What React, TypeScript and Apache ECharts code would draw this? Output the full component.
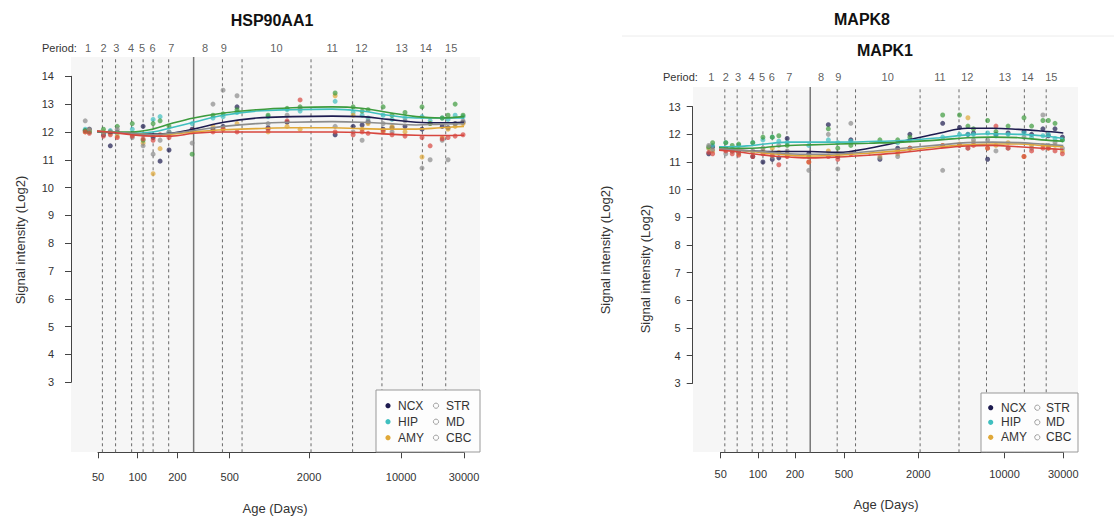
import React, { useEffect, useRef } from "react";
import * as echarts from "echarts";

// ---------- shared data ----------
const regionNames = ["NCX", "HIP", "AMY", "STR", "MD", "CBC"];
const regionColors = ["#1d1b4f", "#3fbfbf", "#e0a838", "#3d9b3d", "#8c8c8c", "#d7463e"];

const periodBoundaries = [54, 68, 90, 110, 131, 172, 440, 620, 2070, 4280, 7150, 14500, 21800];
const birthAge = 266;
const periodNames = ["1", "2", "3", "4", "5", "6", "7", "8", "9", "10", "11", "12", "13", "14", "15"];
const periodLabelAges = [42, 55, 69, 89, 108, 130, 180, 325, 450, 1130, 3000, 5000, 10100, 15400, 24000];
const xTickValues = [50, 100, 200, 500, 2000, 10000, 30000];

const sampleAges = [40, 43, 55, 62, 70, 91, 110, 131, 148, 173, 259, 373, 445, 568, 977, 1362, 1710, 3155, 4320, 5055, 5610, 7300, 8530, 10700, 14400, 16600, 20500, 22700, 25700, 29500];
const curveAges = [40, 60, 90, 130, 180, 266, 450, 800, 1500, 3000, 5000, 8000, 13000, 20000, 30000];

// ---------- HSP90AA1 ----------
const hspNCX = [12.05, 12.1, 11.9, 11.5, 12.0, 11.95, 12.2, 11.8, 10.95, 11.35, 12.1, 12.1, 12.2, 12.9, 12.15, 12.35, null, 11.9, 12.2, 12.25, 12.35, 12.1, 12.15, 12.2, 12.1, null, 12.2, 12.15, 12.3, 12.35];
const hspHIP = [12.1, 12.0, 11.95, 12.05, 11.95, 12.1, 11.9, 12.45, 12.55, 12.0, 12.3, 12.5, 12.55, 12.7, 12.55, 12.8, 12.75, 13.1, 12.7, 12.6, 12.5, 12.6, 12.45, 12.5, 12.55, 12.4, 12.5, 12.45, 12.6, 12.55];
const hspAMY = [12.0, 12.05, 12.0, 11.95, 11.85, 11.9, 11.6, 10.5, 11.4, 11.9, 12.0, 12.2, 12.1, 12.3, 12.0, 12.2, 12.1, 13.3, 12.6, 12.1, 12.3, 12.0, 12.2, 12.0, 11.1, 12.3, 11.8, 12.1, 12.2, 12.3];
const hspSTR = [12.05, 12.0, 12.1, 12.0, 12.2, 12.3, 11.7, 12.3, 12.4, 12.2, 11.2, 12.6, 12.65, 12.8, 12.6, 12.85, 12.9, 13.4, 12.9, 12.75, 12.8, 12.9, 12.6, 12.7, 12.9, 12.3, 12.5, 12.6, 13.0, 12.6];
const hspMD = [12.4, 12.1, 11.95, 12.0, 12.1, 11.8, 11.5, 11.2, 11.7, 12.0, 11.6, 13.0, 13.5, 13.3, 12.3, 12.6, 12.85, 12.2, 12.0, 11.7, 12.4, 12.3, 12.0, 12.4, 10.7, 11.0, 11.7, 11.0, 12.3, 12.4];
const hspCBC = [12.0, 11.95, 11.85, 11.9, 11.8, 11.85, 11.75, 11.7, 11.9, 11.8, 12.05, 12.0, 12.1, 12.0, 12.1, 12.4, 13.15, 12.0, 11.9, 12.0, 11.95, 12.05, 11.9, 11.85, 11.8, 11.5, 11.75, 11.8, 11.85, 11.9];

const hspCurveNCX = [12.05, 11.98, 11.95, 11.92, 11.95, 12.1, 12.35, 12.5, 12.55, 12.57, 12.55, 12.45, 12.35, 12.33, 12.35];
const hspCurveHIP = [12.05, 12.0, 11.95, 12.0, 12.15, 12.35, 12.6, 12.75, 12.8, 12.82, 12.75, 12.6, 12.5, 12.5, 12.5];
const hspCurveAMY = [12.05, 12.0, 11.95, 11.9, 11.92, 12.0, 12.08, 12.12, 12.15, 12.15, 12.12, 12.1, 12.1, 12.15, 12.2];
const hspCurveSTR = [12.05, 12.0, 12.0, 12.1, 12.3, 12.5, 12.68, 12.8, 12.87, 12.9, 12.85, 12.7, 12.55, 12.5, 12.55];
const hspCurveMD = [12.05, 12.0, 11.95, 11.9, 11.95, 12.05, 12.2, 12.3, 12.35, 12.37, 12.35, 12.3, 12.25, 12.28, 12.3];
const hspCurveCBC = [12.05, 12.0, 11.9, 11.85, 11.85, 11.95, 12.0, 12.0, 12.0, 12.0, 11.98, 11.92, 11.88, 11.87, 11.88];

// ---------- MAPK1 ----------
const mapkNCX = [11.3, 11.55, 11.5, 11.4, 11.35, 11.2, 11.0, 11.1, 11.15, 11.85, 11.3, 12.35, 11.2, 11.8, 11.1, 11.5, 12.0, 12.4, 12.25, 12.0, 12.05, 11.1, 12.0, 12.05, 12.1, 12.0, 12.2, 11.95, 12.2, 11.9];
const mapkHIP = [11.5, 11.6, 11.7, 11.5, 11.6, 11.7, 11.8, 11.9, 11.75, 11.7, 11.6, 11.8, 11.7, 11.75, null, 11.7, 11.8, 11.9, 12.0, 12.0, 12.0, 12.05, 11.95, 12.0, 12.05, 11.9, 11.95, 12.0, 11.85, 11.8];
const mapkAMY = [11.5, 11.4, 11.45, 11.4, 11.3, 11.35, 11.4, 11.5, 11.35, 11.3, 11.0, 11.4, 11.3, null, 11.2, 11.3, 11.5, 11.6, 11.65, 12.6, 11.7, 11.5, 11.6, 11.7, 11.2, 11.6, 11.6, 11.5, 11.6, 11.4];
const mapkSTR = [11.55, 11.7, 11.7, 11.6, 11.65, 11.7, 11.9, 11.9, 11.95, 11.6, 11.2, 12.2, 11.5, 11.6, 11.8, 11.8, 11.9, 12.7, 12.7, 12.3, 12.2, 12.5, 12.1, 12.3, 12.6, 12.3, 12.5, 12.5, 12.4, 11.8];
const mapkMD = [11.6, 11.45, 11.3, 11.4, 11.35, 11.4, 11.5, 11.2, 11.6, 11.4, 10.7, 12.0, 10.75, 12.4, 11.15, 11.2, 11.5, 10.7, 11.6, 11.5, 11.8, 11.8, 11.4, 11.5, 11.9, 11.5, 12.7, 11.6, 11.7, 11.5];
const mapkCBC = [11.35, 11.3, 11.4, 11.3, 11.25, 11.2, 11.3, 11.25, 10.9, 11.2, 11.0, 11.2, 11.1, 11.3, null, 11.4, 11.5, 11.6, 11.6, 11.5, 11.6, 11.5, 12.3, 11.5, 11.2, 11.4, 11.5, 11.5, 11.4, 11.3];

const mapkCurveNCX = [11.55, 11.45, 11.4, 11.38, 11.38, 11.38, 11.35, 11.5, 11.75, 12.05, 12.22, 12.22, 12.18, 12.12, 12.05];
const mapkCurveHIP = [11.55, 11.55, 11.6, 11.68, 11.72, 11.72, 11.72, 11.74, 11.78, 11.88, 11.98, 12.02, 12.0, 11.95, 11.85];
const mapkCurveAMY = [11.5, 11.45, 11.38, 11.3, 11.25, 11.22, 11.25, 11.32, 11.42, 11.55, 11.62, 11.65, 11.65, 11.6, 11.55];
const mapkCurveSTR = [11.55, 11.5, 11.5, 11.55, 11.6, 11.62, 11.65, 11.68, 11.72, 11.8, 11.88, 11.9, 11.88, 11.8, 11.75];
const mapkCurveMD = [11.5, 11.45, 11.4, 11.35, 11.3, 11.28, 11.3, 11.38, 11.5, 11.62, 11.7, 11.72, 11.7, 11.65, 11.6];
const mapkCurveCBC = [11.45, 11.4, 11.3, 11.22, 11.18, 11.15, 11.18, 11.25, 11.35, 11.5, 11.58, 11.6, 11.55, 11.5, 11.45];

const FONT = "'Liberation Sans', Arial, sans-serif";

const panels = [
  {
    points: [hspNCX, hspHIP, hspAMY, hspSTR, hspMD, hspCBC],
    curves: [hspCurveNCX, hspCurveHIP, hspCurveAMY, hspCurveSTR, hspCurveMD, hspCurveCBC],
    grid: { left: 98, top: 76.3, width: 366, height: 306 },
    axisGrid: { left: 98, top: 451.3, width: 366, height: 1 },
    yMax: 14, yOffset: 27, yLabelMargin: 17, xLabelMargin: 20,
    lineLo: 0.484, lineHi: 14.69, labelY: 15.02,
    bg: { x: 71, y: 57, w: 409, h: 395 },
    legend: { x: 376, y: 390, w: 104, h: 62, dot: 388, text: 398, dot2: 436, text2: 446, rows: [405.7, 421.7, 437.7] },
    periodText: { x: 42, y: 48 },
  },
  {
    points: [mapkNCX, mapkHIP, mapkAMY, mapkSTR, mapkMD, mapkCBC],
    curves: [mapkCurveNCX, mapkCurveHIP, mapkCurveAMY, mapkCurveSTR, mapkCurveMD, mapkCurveCBC],
    grid: { left: 720.7, top: 106.7, width: 342.6, height: 276.6 },
    axisGrid: { left: 720.7, top: 451.3, width: 342.6, height: 1 },
    yMax: 13, yOffset: 28, yLabelMargin: 12, xLabelMargin: 17,
    lineLo: 0.505, lineHi: 13.71, labelY: 14.07,
    bg: { x: 693, y: 87, w: 385, h: 365 },
    legend: { x: 981, y: 393, w: 97, h: 59, dot: 990.7, text: 1001, dot2: 1037.3, text2: 1046, rows: [407.7, 422.3, 437.3] },
    periodText: { x: 663, y: 77 },
  },
];

const log10Ticks = xTickValues.map((v) => Math.log10(v));

function buildOption() {
  const grids: any[] = [];
  const xAxes: any[] = [];
  const yAxes: any[] = [];
  const series: any[] = [];
  const graphics: any[] = [];

  // data grids (0, 1)
  panels.forEach((p, i) => {
    grids.push({ ...p.grid });
    xAxes.push({
      type: "log", logBase: 10, gridIndex: i, min: 50, max: 30000,
      axisLine: { show: false }, axisTick: { show: false }, axisLabel: { show: false }, splitLine: { show: false },
    });
    yAxes.push({
      type: "value", gridIndex: i, min: 3, max: p.yMax, interval: 1, offset: p.yOffset, splitLine: { show: false },
      axisLine: { show: true, onZero: false, lineStyle: { color: "#444" } },
      axisTick: { show: true, length: 6, lineStyle: { color: "#444" } },
      axisLabel: { margin: p.yLabelMargin, fontSize: 11, color: "#333", fontFamily: FONT },
    });
  });
  // axis-only grids (2, 3): the R-style bottom axis, spanning the first to the last tick
  panels.forEach((p, i) => {
    const gi = i + 2;
    grids.push({ ...p.axisGrid });
    xAxes.push({
      type: "value", gridIndex: gi, min: log10Ticks[0], max: log10Ticks[log10Ticks.length - 1], position: "bottom",
      axisLine: { show: true, onZero: false, lineStyle: { color: "#444", width: 1 } },
      axisTick: { show: true, length: 6, customValues: log10Ticks, lineStyle: { color: "#444", width: 1 } },
      axisLabel: { customValues: log10Ticks, margin: p.xLabelMargin - 1, fontSize: 11, color: "#333", fontFamily: FONT, formatter: (v: number) => String(Math.round(Math.pow(10, v))) },
      splitLine: { show: false },
    });
    yAxes.push({ type: "value", gridIndex: gi, min: 0, max: 1, show: false });
  });

  panels.forEach((p, i) => {
    graphics.push({ type: "rect", z: -10, shape: { x: p.bg.x, y: p.bg.y, width: p.bg.w, height: p.bg.h }, style: { fill: "#f6f6f6" } });

    periodBoundaries.forEach((d) => {
      series.push({
        type: "line", xAxisIndex: i, yAxisIndex: i, data: [[d, p.lineLo], [d, p.lineHi]], symbol: "none", clip: false, silent: true, z: 1,
        lineStyle: { color: "#6a6a6a", width: 1, type: [3, 3] },
      });
    });
    series.push({
      type: "line", xAxisIndex: i, yAxisIndex: i, data: [[birthAge, p.lineLo], [birthAge, p.lineHi]], symbol: "none", clip: false, silent: true, z: 1,
      lineStyle: { color: "#777", width: 1.5 },
    });

    regionNames.forEach((r, k) => {
      const data: any[] = [];
      p.points[k].forEach((v, j) => { if (v !== null) data.push([sampleAges[j], v]); });
      series.push({
        type: "scatter", xAxisIndex: i, yAxisIndex: i, data, symbol: "circle", symbolSize: 5, clip: false, z: 3,
        itemStyle: { color: regionColors[k], opacity: 0.7 },
      });
    });
    regionNames.forEach((r, k) => {
      series.push({
        type: "line", xAxisIndex: i, yAxisIndex: i, data: curveAges.map((a, j) => [a, p.curves[k][j]]), smooth: 0.4,
        symbol: "none", clip: false, z: 4, lineStyle: { color: regionColors[k], width: 1.6 },
      });
    });

    series.push({
      type: "scatter", xAxisIndex: i, yAxisIndex: i, clip: false, symbolSize: 1, z: 5, silent: true,
      itemStyle: { color: "rgba(0,0,0,0)" },
      data: periodLabelAges.map((a, j) => ({ name: periodNames[j], value: [a, p.labelY] })),
      label: { show: true, position: "inside", formatter: "{b}", fontSize: 11, color: "#333", fontFamily: FONT },
    });

    graphics.push({ type: "text", x: p.periodText.x, y: p.periodText.y, style: { text: "Period:", fontSize: 11, fill: "#333", fontFamily: FONT, textVerticalAlign: "middle" } });

    const L = p.legend;
    graphics.push({ type: "rect", z: 100, shape: { x: L.x, y: L.y, width: L.w, height: L.h }, style: { fill: "#fdfdfd", stroke: "#999", lineWidth: 1 } });
    [0, 1, 2].forEach((row) => {
      const yy = L.rows[row];
      graphics.push({ type: "circle", z: 101, shape: { cx: L.dot, cy: yy, r: 2.6 }, style: { fill: regionColors[row] } });
      graphics.push({ type: "text", z: 101, x: L.text, y: yy, style: { text: regionNames[row], fontSize: 12, fill: "#333", fontFamily: FONT, textVerticalAlign: "middle" } });
      graphics.push({ type: "circle", z: 101, shape: { cx: L.dot2, cy: yy, r: 2.6 }, style: { fill: "none", stroke: "#a0a0a0", lineWidth: 1 } });
      graphics.push({ type: "text", z: 101, x: L.text2, y: yy, style: { text: regionNames[row + 3], fontSize: 12, fill: "#333", fontFamily: FONT, textVerticalAlign: "middle" } });
    });
  });

  const txt = (text: string, x: number, y: number, extra: any = {}) => ({
    type: "text", x, y, z: 50,
    style: { text, fontSize: 13, fill: "#333", fontFamily: FONT, textAlign: "center", textVerticalAlign: "middle", ...extra },
  });
  graphics.push(txt("HSP90AA1", 272, 20, { fontSize: 16, fontWeight: "bold", fill: "#111" }));
  graphics.push(txt("MAPK8", 862, 19, { fontSize: 16, fontWeight: "bold", fill: "#111" }));
  graphics.push(txt("MAPK1", 885, 50, { fontSize: 16, fontWeight: "bold", fill: "#111" }));
  graphics.push(txt("Age (Days)", 275, 508));
  graphics.push(txt("Age (Days)", 886, 504));
  graphics.push({ ...txt("Signal intensity (Log2)", 0, 0), x: 20, y: 240, rotation: Math.PI / 2 });
  graphics.push({ ...txt("Signal intensity (Log2)", 0, 0), x: 605, y: 250, rotation: Math.PI / 2 });
  graphics.push({ ...txt("Signal intensity (Log2)", 0, 0), x: 645, y: 269, rotation: Math.PI / 2 });
  graphics.push({ type: "line", z: -5, shape: { x1: 622, y1: 36, x2: 1114, y2: 36 }, style: { stroke: "#ececec", lineWidth: 1 } });

  return {
    animation: false,
    grid: grids,
    xAxis: xAxes,
    yAxis: yAxes,
    series,
    graphic: graphics,
  };
}

export default function App() {
  const ref = useRef<HTMLDivElement>(null);
  useEffect(() => {
    if (!ref.current) return;
    const chart = echarts.init(ref.current, null, { renderer: "svg" });
    chart.setOption(buildOption() as any);
    return () => chart.dispose();
  }, []);
  return <div ref={ref} style={{ position: "fixed", left: 0, top: 0, width: 1114, height: 517, background: "#fff" }} />;
}
